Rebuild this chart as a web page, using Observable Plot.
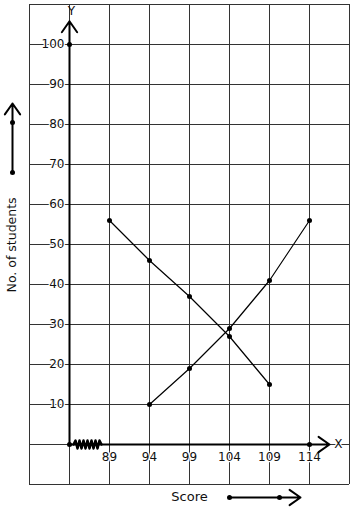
<!DOCTYPE html>
<html>
<head>
<meta charset="utf-8">
<script src="https://cdn.jsdelivr.net/npm/d3@7"></script>
<script src="https://cdn.jsdelivr.net/npm/@observablehq/plot@0.6"></script>
<style>
  html, body { margin: 0; padding: 0; background: #fff; }
  svg { display: block; font-family: "DejaVu Sans", sans-serif; }
</style>
</head>
<body>
<div id="chart"></div>
<script>
// Series A (descending)
const scoresA = [89, 94, 99, 104, 109];
const studentsA = [56, 46, 37, 27, 15];
// Series B (ascending)
const scoresB = [94, 99, 104, 109, 114];
const studentsB = [10, 19, 29, 41, 56];
// Tick labels
const xTicks = [89, 94, 99, 104, 109, 114];
const yTicks = [10, 20, 30, 40, 50, 60, 70, 80, 90, 100];
// Grid lines (graph-paper)
const xGrid = [79, 84, 89, 94, 99, 104, 109, 114, 119];
const yGrid = [-10, 0, 10, 20, 30, 40, 50, 60, 70, 80, 90, 100, 110];
// Axis-break zigzag (in data units)
const zigX = [84.5, 84.75, 85, 85.25, 85.5, 85.75, 86, 86.25, 86.5, 86.75, 87, 87.25, 87.5, 87.75, 88];
const zigY = [0, 1, -1, 1, -1, 1, -1, 1, -1, 1, -1, 1, -1, 1, 0];

const dataA = scoresA.map((s, i) => ({x: s, y: studentsA[i]}));
const dataB = scoresB.map((s, i) => ({x: s, y: studentsB[i]}));
const zig = zigX.map((x, i) => ({x, y: zigY[i]}));

const halo = {stroke: "white", strokeWidth: 2.5, paintOrder: "stroke"};

const chart = Plot.plot({
  width: 354,
  height: 510,
  marginLeft: 29,
  marginRight: 5,
  marginTop: 4,
  marginBottom: 26,
  x: {domain: [79, 119], axis: null},
  y: {domain: [-10, 110], axis: null},
  style: {fontFamily: "DejaVu Sans, sans-serif", background: "white"},
  marks: [
    Plot.ruleX(xGrid, {stroke: "#333", strokeWidth: 1, strokeOpacity: 1}),
    Plot.ruleY(yGrid, {stroke: "#333", strokeWidth: 1, strokeOpacity: 1}),
    // y tick labels
    Plot.text(yTicks, {x: 84, y: d => d, text: d => String(d), dx: -5, textAnchor: "end", fontSize: 12, fill: "#111", ...halo}),
    // x tick labels
    Plot.text(xTicks, {x: d => d, y: 0, text: d => String(d), dy: 12.5, fontSize: 12, fill: "#111", ...halo}),
    // axes with arrows
    Plot.arrow([{x1: 84, y1: 0, x2: 84, y2: 105.8}], {x1: "x1", y1: "y1", x2: "x2", y2: "y2", stroke: "black", strokeWidth: 2, headLength: 10, headAngle: 70}),
    Plot.arrow([{x1: 84, y1: 0, x2: 116.5, y2: 0}], {x1: "x1", y1: "y1", x2: "x2", y2: "y2", stroke: "black", strokeWidth: 2, headLength: 10, headAngle: 70}),
    Plot.line(zig, {x: "x", y: "y", stroke: "black", strokeWidth: 2.5}),
    Plot.text(["X"], {x: 117.6, y: 0, text: d => d, fontSize: 12, fill: "#111", ...halo}),
    Plot.text(["Y"], {x: 84.25, y: 108.3, text: d => d, fontSize: 12, fill: "#111"}),
    Plot.dot([{x: 84, y: 0}, {x: 84, y: 100}, {x: 114, y: 0}], {x: "x", y: "y", r: 2.5, fill: "black"}),
    // data lines
    Plot.line(dataA, {x: "x", y: "y", stroke: "black", strokeWidth: 1.2}),
    Plot.dot(dataA, {x: "x", y: "y", r: 2.5, fill: "black"}),
    Plot.line(dataB, {x: "x", y: "y", stroke: "black", strokeWidth: 1.2}),
    Plot.dot(dataB, {x: "x", y: "y", r: 2.5, fill: "black"}),
    // y-axis title with arrow
    Plot.text(["No. of students"], {x: 76.75, y: 49.9, text: d => d, rotate: -90, fontSize: 12.5, fill: "#111"}),
    Plot.arrow([{x1: 76.875, y1: 68, x2: 76.875, y2: 85.25}], {x1: "x1", y1: "y1", x2: "x2", y2: "y2", stroke: "black", strokeWidth: 2, headLength: 10, headAngle: 70}),
    Plot.dot([{x: 76.875, y: 68}, {x: 76.875, y: 80.5}], {x: "x", y: "y", r: 2.5, fill: "black"}),
    // x-axis title with arrow
    Plot.text(["Score"], {x: 99, y: -13, text: d => d, fontSize: 13, fill: "#111"}),
    Plot.arrow([{x1: 104, y1: -13.25, x2: 112.875, y2: -13.25}], {x1: "x1", y1: "y1", x2: "x2", y2: "y2", stroke: "black", strokeWidth: 2, headLength: 10, headAngle: 70}),
    Plot.dot([{x: 104, y: -13.25}, {x: 110.25, y: -13.25}], {x: "x", y: "y", r: 2.5, fill: "black"})
  ]
});
document.getElementById("chart").appendChild(chart);
</script>
</body>
</html>
